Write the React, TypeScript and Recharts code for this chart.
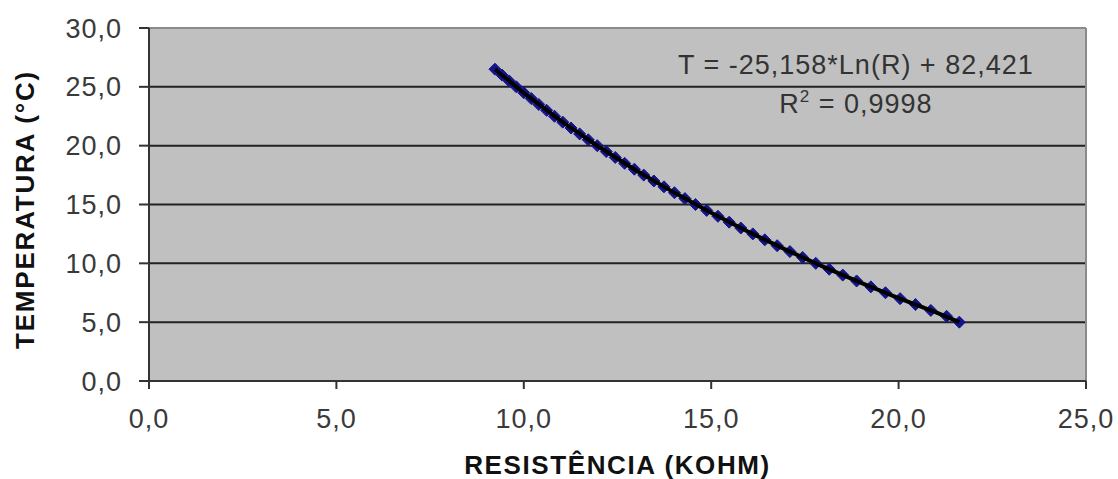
import React from 'react'
import {
  ScatterChart,
  Scatter,
  XAxis,
  YAxis,
  CartesianGrid,
  ReferenceLine,
  ReferenceDot,
} from 'recharts'

// measured points (resistance in kOhm, temperature in °C)
const resistance = [
  9.23, 9.42, 9.61, 9.80, 10.00, 10.20, 10.40, 10.61, 10.82, 11.04, 11.26,
  11.49, 11.72, 11.96, 12.20, 12.44, 12.69, 12.95, 13.20, 13.47, 13.74,
  14.02, 14.30, 14.58, 14.88, 15.18, 15.48, 15.79, 16.11, 16.43, 16.76,
  17.10, 17.44, 17.79, 18.15, 18.51, 18.88, 19.26, 19.65, 20.04, 20.45,
  20.86, 21.28, 21.62,
]
const temperature = [
  26.5, 26.0, 25.5, 25.0, 24.5, 24.0, 23.5, 23.0, 22.5, 22.0, 21.5,
  21.0, 20.5, 20.0, 19.5, 19.0, 18.5, 18.0, 17.5, 17.0, 16.5,
  16.0, 15.5, 15.0, 14.5, 14.0, 13.5, 13.0, 12.5, 12.0, 11.5,
  11.0, 10.5, 10.0, 9.5, 9.0, 8.5, 8.0, 7.5, 7.0, 6.5,
  6.0, 5.5, 5.0,
]

// logarithmic trendline
const trendR = [9.23, 10, 11, 12, 13, 14, 15, 16, 17, 18, 19, 20, 21, 21.62]
const trendT = [26.5, 24.49, 22.09, 19.91, 17.89, 16.03, 14.29, 12.67, 11.14, 9.7, 8.34, 7.05, 5.83, 5.0]

const xTicks = [0, 5, 10, 15, 20, 25]
const yTicks = [0, 5, 10, 15, 20, 25, 30]
const gridValues = [5, 10, 15, 20, 25]

const equation = 'T = -25,158*Ln(R) + 82,421'
const rSquared = '0,9998'

const points = resistance.map((r, i) => ({ r, t: temperature[i] }))
const trend = trendR.map((r, i) => ({ r, t: trendT[i] }))

const FONT = '"Liberation Sans", Arial, sans-serif'
const fmt = (v: number) => v.toFixed(1).replace('.', ',')

const Diamond = (props: any) => {
  const { cx, cy } = props
  const s = 6
  return (
    <path
      d={`M${cx},${cy - s}L${cx + s},${cy}L${cx},${cy + s}L${cx - s},${cy}Z`}
      fill="#14148c"
      stroke="#14148c"
    />
  )
}

const NoShape = () => <g />

const EquationLabel = (props: any) => {
  const vb = props.viewBox || {}
  const cx = vb.x + (vb.width || 0) / 2
  const cy = vb.y + (vb.height || 0) / 2
  return (
    <g fontFamily={FONT} fill="#333" fontSize={27} textAnchor="middle">
      <text x={cx} y={cy - 10} letterSpacing={1.0}>
        {equation}
      </text>
      <text x={cx} y={cy + 29} letterSpacing={1.0}>
        R
        <tspan fontSize={17} dy={-11}>2</tspan>
        <tspan dy={11}>{' = ' + rSquared}</tspan>
      </text>
    </g>
  )
}

const YTitle = (props: any) => {
  const vb = props.viewBox || {}
  const x = vb.x + 34
  const y = vb.y + vb.height / 2 + 5
  return (
    <text
      x={x}
      y={y}
      transform={`rotate(-90 ${x} ${y})`}
      textAnchor="middle"
      fontFamily={FONT}
      fontWeight="bold"
      fontSize={26}
      letterSpacing={1.8}
      fill="#111"
    >
      TEMPERATURA (°C)
    </text>
  )
}

export default function App() {
  return (
    <div style={{ position: 'absolute', left: 0, top: 0, background: '#fff', fontFamily: FONT }}>
      <ScatterChart width={1118} height={479} margin={{ top: 28, right: 32, left: 0, bottom: 0 }}>
        <CartesianGrid
          vertical={false}
          horizontalValues={gridValues}
          stroke="#222"
          strokeWidth={2}
          fill="#c0c0c0"
          fillOpacity={1}
        />
        <XAxis
          type="number"
          dataKey="r"
          domain={[0, 25]}
          ticks={xTicks}
          tickFormatter={fmt}
          height={98}
          axisLine={{ stroke: '#333', strokeWidth: 2 }}
          tickLine={{ stroke: '#333', strokeWidth: 2 }}
          tickSize={8}
          tickMargin={20}
          tick={{ fontSize: 27, fill: '#3a3a3a', fontFamily: FONT, letterSpacing: 1.0 }}
          label={{
            value: 'RESISTÊNCIA (KOHM)',
            position: 'insideBottom',
            offset: 5,
            fontSize: 26,
            fontWeight: 'bold',
            fill: '#111',
            fontFamily: FONT,
            letterSpacing: 1.6,
          }}
          allowDataOverflow
        />
        <YAxis
          type="number"
          dataKey="t"
          domain={[0, 30]}
          ticks={yTicks}
          tickFormatter={fmt}
          width={149}
          axisLine={{ stroke: '#333', strokeWidth: 2 }}
          tickLine={{ stroke: '#333', strokeWidth: 2 }}
          tickSize={10}
          tickMargin={17}
          tick={{ fontSize: 27, fill: '#3a3a3a', fontFamily: FONT, letterSpacing: 1.0 }}
          label={{ content: YTitle }}
          allowDataOverflow
        />
        <ReferenceLine y={30} stroke="#8a8a8a" strokeWidth={2} />
        <ReferenceLine x={25} stroke="#8a8a8a" strokeWidth={2} />
        <Scatter data={points} shape={Diamond} isAnimationActive={false} />
        <Scatter
          data={trend}
          line={{ stroke: '#000', strokeWidth: 4 }}
          lineType="joint"
          shape={NoShape}
          isAnimationActive={false}
        />
        <ReferenceDot x={18.86} y={25.2} r={0} fill="none" stroke="none" label={{ content: EquationLabel }} />
      </ScatterChart>
    </div>
  )
}
